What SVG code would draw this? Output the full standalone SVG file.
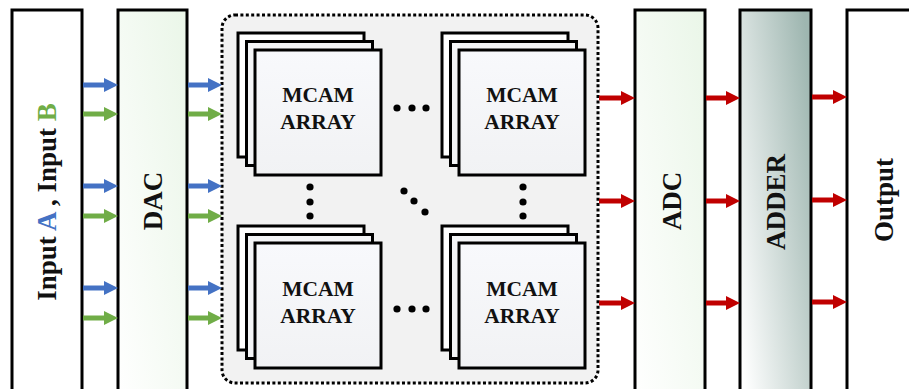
<svg xmlns="http://www.w3.org/2000/svg" width="909" height="389" viewBox="0 0 909 389">
  <style>
    .blk { stroke: #000; stroke-width: 3; }
    .lbl { font-family: "Liberation Serif", "Times New Roman", serif; font-weight: bold; fill: #111; text-anchor: middle; }
    .big { font-size: 27px; }
    .mc { font-size: 21.5px; }
    .dot { fill: #000; }
    .ab { stroke: #4472C4; stroke-width: 5; }
    .ag { stroke: #70AD47; stroke-width: 5; }
    .ar { stroke: #C00000; stroke-width: 5; }
  </style>
  <defs>
    <linearGradient id="gGreen" x1="1" y1="0" x2="0" y2="1">
      <stop offset="0" stop-color="#eaf6e8"/>
      <stop offset="1" stop-color="#ffffff"/>
    </linearGradient>
    <linearGradient id="gAdder" x1="1" y1="0.15" x2="0" y2="0.85">
      <stop offset="0" stop-color="#9eb6b0"/>
      <stop offset="1" stop-color="#ffffff"/>
    </linearGradient>
    <linearGradient id="gCell" x1="0" y1="0" x2="0" y2="1">
      <stop offset="0" stop-color="#f8f9fc"/>
      <stop offset="1" stop-color="#f1f2f4"/>
    </linearGradient>
    <marker id="hb" markerUnits="userSpaceOnUse" markerWidth="15" markerHeight="15" refX="2" refY="7" orient="auto">
      <path d="M0,0 L14,7 L0,14 z" fill="#4472C4"/>
    </marker>
    <marker id="hg" markerUnits="userSpaceOnUse" markerWidth="15" markerHeight="15" refX="2" refY="7" orient="auto">
      <path d="M0,0 L14,7 L0,14 z" fill="#70AD47"/>
    </marker>
    <marker id="hr" markerUnits="userSpaceOnUse" markerWidth="15" markerHeight="15" refX="2" refY="7" orient="auto">
      <path d="M0,0 L14,7 L0,14 z" fill="#C00000"/>
    </marker>
    <!-- one stack of three MCAM array tiles -->
    <g id="stack">
      <rect x="0" y="0" width="126" height="124" fill="#ffffff" class="blk"/>
      <rect x="8.5" y="8.5" width="126" height="124" fill="#f4f5f7" class="blk"/>
      <rect x="17" y="17" width="126" height="125" fill="url(#gCell)" class="blk"/>
    </g>
  </defs>

  <g id="input">
    <rect x="12" y="10" width="70" height="400" fill="#ffffff" class="blk"/>
    <text class="lbl big" transform="translate(56,202) rotate(-90)">Input <tspan fill="#4472C4">A</tspan> , Input <tspan fill="#70AD47">B</tspan></text>
  </g>

  <g id="dac">
    <rect x="118" y="10" width="69" height="400" fill="url(#gGreen)" class="blk"/>
    <text class="lbl big" transform="translate(162,201) rotate(-90)">DAC</text>
  </g>

  <g id="mcam-block">
    <rect x="222" y="15" width="376" height="368" rx="13" fill="#f2f2f2" stroke="#000" stroke-width="3" stroke-dasharray="3 2.4"/>
    <g id="mcam-tl">
      <use href="#stack" x="238" y="33"/>
      <text class="lbl mc" x="318" y="102">MCAM</text>
      <text class="lbl mc" x="318" y="129">ARRAY</text>
    </g>
    <g id="mcam-tr">
      <use href="#stack" x="442" y="33"/>
      <text class="lbl mc" x="522" y="102">MCAM</text>
      <text class="lbl mc" x="522" y="129">ARRAY</text>
    </g>
    <g id="mcam-bl">
      <use href="#stack" x="238" y="226"/>
      <text class="lbl mc" x="318" y="296">MCAM</text>
      <text class="lbl mc" x="318" y="323">ARRAY</text>
    </g>
    <g id="mcam-br">
      <use href="#stack" x="442" y="226"/>
      <text class="lbl mc" x="522" y="296">MCAM</text>
      <text class="lbl mc" x="522" y="323">ARRAY</text>
    </g>
    <!-- ellipsis dots between tiles -->
    <g id="ellipses">
      <circle class="dot" cx="397" cy="108" r="3.6"/>
      <circle class="dot" cx="412" cy="108" r="3.6"/>
      <circle class="dot" cx="426" cy="108" r="3.6"/>
      <circle class="dot" cx="397" cy="309" r="3.6"/>
      <circle class="dot" cx="412" cy="309" r="3.6"/>
      <circle class="dot" cx="426" cy="309" r="3.6"/>
      <circle class="dot" cx="310" cy="187" r="3.6"/>
      <circle class="dot" cx="310" cy="202" r="3.6"/>
      <circle class="dot" cx="310" cy="216" r="3.6"/>
      <circle class="dot" cx="523" cy="187" r="3.6"/>
      <circle class="dot" cx="523" cy="202" r="3.6"/>
      <circle class="dot" cx="523" cy="216" r="3.6"/>
      <circle class="dot" cx="404" cy="191" r="3.6"/>
      <circle class="dot" cx="414" cy="201" r="3.6"/>
      <circle class="dot" cx="425" cy="212" r="3.6"/>
    </g>
  </g>

  <g id="adc">
    <rect x="635" y="10" width="70" height="400" fill="url(#gGreen)" class="blk"/>
    <text class="lbl big" transform="translate(681,201) rotate(-90)">ADC</text>
  </g>

  <g id="adder">
    <rect x="740" y="10" width="71" height="400" fill="url(#gAdder)" class="blk"/>
    <text class="lbl big" transform="translate(785,202) rotate(-90)">ADDER</text>
  </g>

  <g id="output">
    <rect x="847" y="10" width="70" height="400" fill="#ffffff" class="blk"/>
    <text class="lbl big" transform="translate(893,200) rotate(-90)">Output</text>
  </g>

  <g id="connectors">
    <line class="ab" x1="83" y1="85" x2="106" y2="85" marker-end="url(#hb)"/>
    <line class="ag" x1="83" y1="114" x2="106" y2="114" marker-end="url(#hg)"/>
    <line class="ab" x1="83" y1="186" x2="106" y2="186" marker-end="url(#hb)"/>
    <line class="ag" x1="83" y1="216" x2="106" y2="216" marker-end="url(#hg)"/>
    <line class="ab" x1="83" y1="288" x2="106" y2="288" marker-end="url(#hb)"/>
    <line class="ag" x1="83" y1="318" x2="106" y2="318" marker-end="url(#hg)"/>

    <line class="ab" x1="188" y1="85" x2="210" y2="85" marker-end="url(#hb)"/>
    <line class="ag" x1="188" y1="114" x2="210" y2="114" marker-end="url(#hg)"/>
    <line class="ab" x1="188" y1="186" x2="210" y2="186" marker-end="url(#hb)"/>
    <line class="ag" x1="188" y1="216" x2="210" y2="216" marker-end="url(#hg)"/>
    <line class="ab" x1="188" y1="288" x2="210" y2="288" marker-end="url(#hb)"/>
    <line class="ag" x1="188" y1="318" x2="210" y2="318" marker-end="url(#hg)"/>

    <line class="ar" x1="599" y1="98" x2="623" y2="98" marker-end="url(#hr)"/>
    <line class="ar" x1="599" y1="201" x2="623" y2="201" marker-end="url(#hr)"/>
    <line class="ar" x1="599" y1="303" x2="623" y2="303" marker-end="url(#hr)"/>

    <line class="ar" x1="706" y1="98" x2="728" y2="98" marker-end="url(#hr)"/>
    <line class="ar" x1="706" y1="201" x2="728" y2="201" marker-end="url(#hr)"/>
    <line class="ar" x1="706" y1="303" x2="728" y2="303" marker-end="url(#hr)"/>

    <line class="ar" x1="812" y1="97" x2="835" y2="97" marker-end="url(#hr)"/>
    <line class="ar" x1="812" y1="200" x2="835" y2="200" marker-end="url(#hr)"/>
    <line class="ar" x1="812" y1="302" x2="835" y2="302" marker-end="url(#hr)"/>
  </g>
</svg>
